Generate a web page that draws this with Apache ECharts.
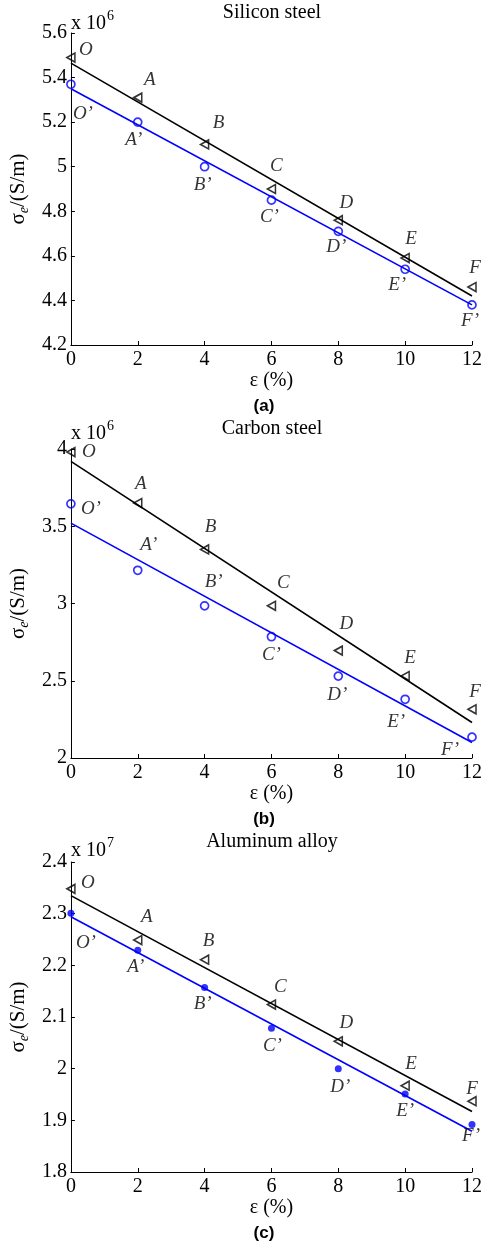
<!DOCTYPE html>
<html>
<head>
<meta charset="utf-8">
<script src="https://cdn.jsdelivr.net/npm/echarts@6/dist/echarts.min.js"></script>
<style>
html, body {margin: 0; padding: 0; background: #fff;}
#chartDiv {width: 485px; height: 1242px;}
</style>
</head>
<body>
<div id="chartDiv"></div>
<script>
// 数据：应变 (%) 与电导率 σe
const strain = [0, 2, 4, 6, 8, 10, 12];
const fitX = [0, 12];
const triNames = ['O', 'A', 'B', 'C', 'D', 'E', 'F'];
const circNames = ['O’', 'A’', 'B’', 'C’', 'D’', 'E’', 'F’'];

// (a) Silicon steel, x 10^6
const siliconTri = [5.49, 5.31, 5.10, 4.90, 4.76, 4.59, 4.46];
const siliconCirc = [5.37, 5.20, 5.00, 4.85, 4.71, 4.54, 4.38];
const siliconTriFit = [5.465, 4.42];
const siliconCircFit = [5.35, 4.38];

// (b) Carbon steel, x 10^6
const carbonTri = [3.98, 3.65, 3.35, 2.985, 2.695, 2.53, 2.315];
const carbonCirc = [3.645, 3.215, 2.985, 2.785, 2.53, 2.38, 2.135];
const carbonTriFit = [3.92, 2.23];
const carbonCircFit = [3.52, 2.10];

// (c) Aluminum alloy, x 10^7
const aluminumTri = [2.348, 2.249, 2.211, 2.124, 2.053, 1.967, 1.937];
const aluminumCirc = [2.301, 2.229, 2.157, 2.078, 2.000, 1.951, 1.892];
const aluminumTriFit = [2.335, 1.917];
const aluminumCircFit = [2.294, 1.879];

// 标注偏移 (px)
const siliconTriOff = [[15, -8], [12, -18], [14, -21], [5, -23], [8, -17], [6, -19], [3, -19]];
const siliconCircOff = [[12, 30], [-4, 18], [-2, 18], [-2, 17], [-2, 16], [-8, 16], [-2, 16]];
const carbonTriOff = [[18, 0], [3, -19], [6, -22], [12, -23], [8, -27], [5, -18], [3, -17]];
const carbonCircOff = [[20, 5], [11, -25], [9, -24], [0, 18], [-1, 19], [-9, 23], [-22, 13]];
const aluminumTriOff = [[17, -6], [9, -23], [4, -19], [9, -18], [8, -18], [6, -22], [0, -12]];
const aluminumCircOff = [[15, 30], [-2, 17], [-2, 16], [1, 18], [2, 18], [0, 17], [-1, 12]];

let myChart = echarts.init(document.getElementById('chartDiv'));

const serif = 'Liberation Serif';
const blue = '#0000ff';

let panels = [
	{title: 'Silicon steel', letter: '(a)', exp: '6', top: 33, height: 312, min: 4.2, max: 5.6, step: 0.2,
		tri: siliconTri, circ: siliconCirc, triFit: siliconTriFit, circFit: siliconCircFit,
		triOff: siliconTriOff, circOff: siliconCircOff, filled: false, expDy: -9.5},
	{title: 'Carbon steel', letter: '(b)', exp: '6', top: 449, height: 309, min: 2, max: 4, step: 0.5,
		tri: carbonTri, circ: carbonCirc, triFit: carbonTriFit, circFit: carbonCircFit,
		triOff: carbonTriOff, circOff: carbonCircOff, filled: false, expDy: -15},
	{title: 'Aluminum alloy', letter: '(c)', exp: '7', top: 862, height: 310, min: 1.8, max: 2.4, step: 0.1,
		tri: aluminumTri, circ: aluminumCirc, triFit: aluminumTriFit, circFit: aluminumCircFit,
		triOff: aluminumTriOff, circOff: aluminumCircOff, filled: true, expDy: -11.5}
];

let option = {
	backgroundColor: '#fff',
	animation: false,
	grid: [], xAxis: [], yAxis: [], series: [], graphic: []
};

function pointData(values, names, offsets) {
	return values.map(function (v, i) {
		return {
			value: [strain[i], v],
			label: {formatter: names[i], offset: offsets[i]}
		};
	});
}

panels.forEach(function (p, i) {
	let bottom = p.top + p.height;
	option.grid.push({left: 70, top: p.top, width: 404, height: p.height});
	option.xAxis.push({
		type: 'value', gridIndex: i, min: 0, max: 12, interval: 2,
		name: 'ε (%)', nameLocation: 'middle', nameGap: 25,
		nameTextStyle: {fontFamily: serif, fontSize: 20, color: '#000'},
		axisLine: {lineStyle: {color: '#000', width: 1}},
		axisTick: {inside: true, length: 4, lineStyle: {color: '#000'}},
		axisLabel: {fontFamily: serif, fontSize: 20, color: '#000', margin: 5},
		splitLine: {show: false}
	});
	option.yAxis.push({
		type: 'value', gridIndex: i, min: p.min, max: p.max, interval: p.step,
		name: '{s|σ}{sub|e}{s|/(S/m)}', nameLocation: 'middle', nameGap: 38, nameRotate: 90,
		nameTextStyle: {
			color: '#000',
			rich: {
				s: {fontFamily: serif, fontSize: 21, color: '#000'},
				sub: {fontFamily: serif, fontSize: 14, fontStyle: 'italic', color: '#000', padding: [11, 0, 0, 0]}
			}
		},
		axisLine: {show: true, lineStyle: {color: '#000', width: 1}},
		axisTick: {show: true, inside: true, length: 4, lineStyle: {color: '#000'}},
		axisLabel: {fontFamily: serif, fontSize: 20, color: '#000', margin: 4},
		splitLine: {show: false}
	});

	// 拟合直线
	option.series.push({
		type: 'line', xAxisIndex: i, yAxisIndex: i, showSymbol: false, silent: true,
		data: fitX.map(function (x, k) { return [x, p.triFit[k]]; }),
		lineStyle: {color: '#000', width: 1.6}, z: 2
	});
	option.series.push({
		type: 'line', xAxisIndex: i, yAxisIndex: i, showSymbol: false, silent: true,
		data: fitX.map(function (x, k) { return [x, p.circFit[k]]; }),
		lineStyle: {color: blue, width: 1.6}, z: 2
	});

	let labelBase = {
		show: true, position: 'inside', color: '#000',
		fontFamily: serif, fontStyle: 'italic', fontSize: 19,
		align: 'center', verticalAlign: 'middle'
	};
	option.series.push({
		type: 'scatter', xAxisIndex: i, yAxisIndex: i, clip: false, z: 3,
		symbol: 'triangle', symbolSize: [9, 8], symbolRotate: 90,
		itemStyle: {color: 'rgba(0,0,0,0)', borderColor: '#000', borderWidth: 1.6},
		label: labelBase,
		data: pointData(p.tri, triNames, p.triOff)
	});
	option.series.push({
		type: 'scatter', xAxisIndex: i, yAxisIndex: i, clip: false, z: 3,
		symbol: 'circle', symbolSize: p.filled ? 7 : 8,
		itemStyle: p.filled
			? {color: blue}
			: {color: 'rgba(0,0,0,0)', borderColor: blue, borderWidth: 1.7},
		label: labelBase,
		data: pointData(p.circ, circNames, p.circOff)
	});

	// 标题、量级和子图编号
	option.graphic.push({
		type: 'text', x: 272, y: p.top - 20,
		style: {text: p.title, font: '20px "Liberation Serif"', fill: '#000', align: 'center', verticalAlign: 'middle'}
	});
	option.graphic.push({
		type: 'text', x: 71, y: p.top + p.expDy,
		style: {
			text: '{b|x 10}{sup|' + p.exp + '}', align: 'left', verticalAlign: 'middle',
			rich: {
				b: {fontFamily: serif, fontSize: 20, fill: '#000'},
				sup: {fontFamily: serif, fontSize: 14, fill: '#000', padding: [0, 0, 15, 1]}
			}
		}
	});
	option.graphic.push({
		type: 'text', x: 264, y: bottom + 61,
		style: {text: p.letter, font: 'bold 17px "Liberation Sans"', fill: '#000', align: 'center', verticalAlign: 'middle'}
	});
});

myChart.setOption(option);
window.onresize = myChart.resize;
</script>
</body>
</html>
